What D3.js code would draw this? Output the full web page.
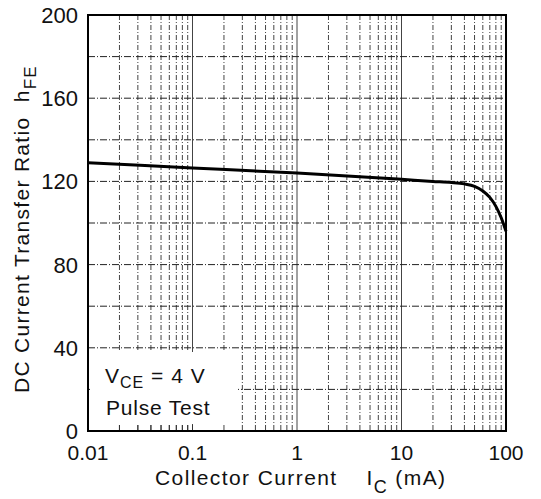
<!DOCTYPE html>
<html><head><meta charset="utf-8">
<script src="https://cdn.jsdelivr.net/npm/d3@7"></script>
<style>body{margin:0;background:#fff}text{font-family:"Liberation Sans",Arial,Helvetica,sans-serif;fill:#111;white-space:pre}</style>
</head><body><svg id="c" width="541" height="499"></svg>
<script>
const collectorCurrent = [0.01, 0.1, 1, 10, 20, 30, 40, 50, 60, 70, 80, 90, 100];
const hFE = [129, 126.5, 124, 121, 120, 119.5, 118.8, 117.6, 115.4, 112.3, 108, 102.5, 96];
const xTickValues = [0.01, 0.1, 1, 10, 100];
const xTickLabels = ["0.01", "0.1", "1", "10", "100"];
const yTickValues = [0, 40, 80, 120, 160, 200];
const yGridValues = [20, 40, 60, 80, 100, 120, 140, 160, 180];

const svg = d3.select("#c");
const x = d3.scaleLog().domain([0.01, 100]).range([88, 506]);
const y = d3.scaleLinear().domain([0, 200]).range([431, 15]);

const isDecade = d => Math.abs(Math.log10(d) - Math.round(Math.log10(d))) < 1e-9;
// vertical grid
const vgrid = [];
for (let e = -2; e < 2; e++) for (let m = 1; m <= 9; m++) { const v = m * Math.pow(10, e); if (v > 0.01) vgrid.push(v); }
svg.append("g").selectAll("line").data(vgrid).join("line")
  .attr("x1", d => x(d)).attr("x2", d => x(d)).attr("y1", y(200)).attr("y2", y(0))
  .attr("stroke", "#444")
  .attr("stroke-width", 1)
  .attr("stroke-dasharray", d => isDecade(d) ? null : "5,2,1,2");
// horizontal grid
svg.append("g").selectAll("line").data(yGridValues).join("line")
  .attr("x1", x(0.01)).attr("x2", x(100)).attr("y1", d => y(d)).attr("y2", d => y(d))
  .attr("stroke", "#222").attr("stroke-width", 1).attr("stroke-dasharray", "7,2,1,2");

// curve
const pts = collectorCurrent.map((c, i) => [c, hFE[i]]);
svg.append("path").datum(pts)
  .attr("d", d3.line().x(d => x(d[0])).y(d => y(d[1])).curve(d3.curveMonotoneX))
  .attr("fill", "none").attr("stroke", "#000").attr("stroke-width", 3);

// annotation box
svg.append("rect").attr("x", 90).attr("y", 352).attr("width", 148).attr("height", 72).attr("fill", "#fff");
svg.append("g").selectAll("line").data(vgrid.filter(v => v < 0.2)).join("line")
  .attr("x1", d => x(d)).attr("x2", d => x(d)).attr("y1", y(0) - 6).attr("y2", y(0))
  .attr("stroke", "#333").attr("stroke-width", 1);
const ann = svg.append("text").attr("x", 105).attr("y", 383).style("font-size", "21px").style("letter-spacing", "1px");
ann.append("tspan").text("V");
ann.append("tspan").attr("dy", 5).style("font-size", "16px").text("CE");
ann.append("tspan").attr("dy", -5).text(" = 4 V");
svg.append("text").attr("x", 106).attr("y", 415).style("font-size", "21px").style("letter-spacing", "0.8px").text("Pulse Test");

// frame
svg.append("rect").attr("x", x(0.01)).attr("y", y(200)).attr("width", x(100) - x(0.01)).attr("height", y(0) - y(200))
  .attr("fill", "none").attr("stroke", "#000").attr("stroke-width", 2);

// x ticks
svg.append("g").selectAll("text").data(xTickValues).join("text")
  .attr("x", d => x(d)).attr("y", 460).attr("text-anchor", "middle").style("font-size", "21px")
  .text((d, i) => xTickLabels[i]);
// y ticks
svg.append("g").selectAll("text").data(yTickValues).join("text")
  .attr("x", 78).attr("y", d => y(d)).attr("dy", "0.36em").attr("text-anchor", "end").style("font-size", "22px")
  .text(d => d);

// x title
const xt = svg.append("text").attr("x", 155).attr("y", 485).style("font-size", "21px").style("letter-spacing", "1.4px");
xt.append("tspan").text("Collector Current\u00a0\u00a0\u00a0\u00a0I");
xt.append("tspan").attr("dy", 8).style("font-size", "18px").text("C");
xt.append("tspan").attr("dy", -8).text("\u00a0(mA)");

// y title
const yt = svg.append("text").attr("transform", "translate(29,393) rotate(-90)").style("font-size", "21px").style("letter-spacing", "1.3px");
yt.append("tspan").text("DC Current Transfer Ratio\u00a0\u00a0h");
yt.append("tspan").attr("dy", 7).style("font-size", "17px").text("FE");
</script></body></html>
